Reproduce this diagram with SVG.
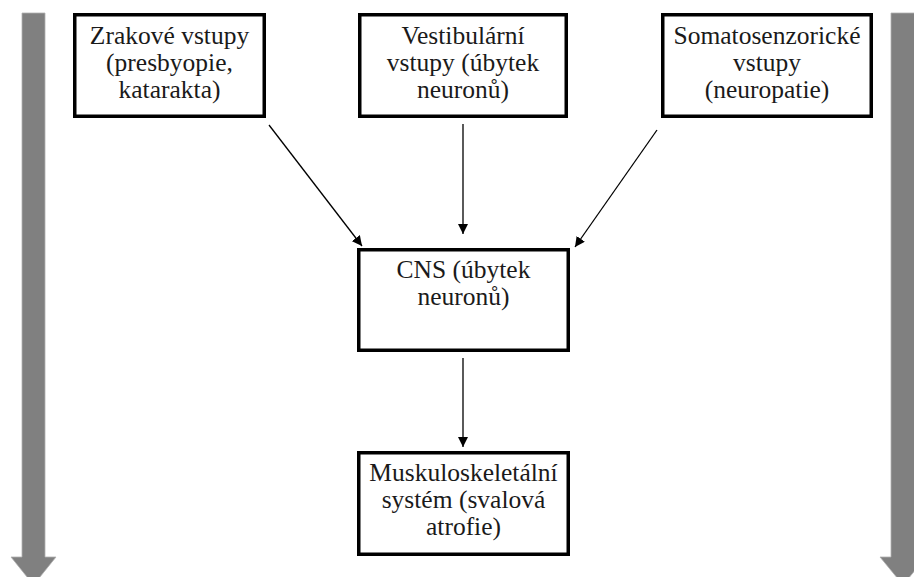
<svg xmlns="http://www.w3.org/2000/svg" width="914" height="577" viewBox="0 0 914 577">
<defs>
<style>
.box{fill:#fff;stroke:#000;stroke-width:3.5}
.t{font-family:'Liberation Serif','Times New Roman',serif;font-size:25.5px;fill:#1a1a1a;text-anchor:middle}
.c{stroke:#000;stroke-width:1.3;fill:none;marker-end:url(#ah)}
.big{fill:#808080;stroke:#b0b0b0;stroke-width:0.8}
</style>
<marker id="ah" viewBox="0 0 10 10" refX="10" refY="5" markerWidth="10" markerHeight="10" markerUnits="userSpaceOnUse" orient="auto">
<path d="M0,0 L10,5 L0,10 z" fill="#000"/>
</marker>
</defs>
<rect width="914" height="577" fill="#fff"/>
<g id="left-arrow"><path class="big" d="M22,13 H45 V557 H56 L33.5,585 L11,557 H22 Z"/></g>
<g id="right-arrow"><path class="big" d="M891,13 H915 V557 H926 L903,585 L880,557 H891 Z"/></g>
<g id="connectors">
<line class="c" x1="269" y1="125" x2="362" y2="246"/>
<line class="c" x1="463" y1="124" x2="463" y2="234"/>
<line class="c" x1="657" y1="130" x2="575" y2="247"/>
<line class="c" x1="463" y1="358" x2="463" y2="447"/>
</g>
<g id="zrakove">
<rect class="box" x="74.75" y="14.75" width="189.5" height="101.5"/>
<text class="t" x="169.5" y="44">Zrakové vstupy</text>
<text class="t" x="169.5" y="71">(presbyopie,</text>
<text class="t" x="169.5" y="98">katarakta)</text>
</g>
<g id="vestibularni">
<rect class="box" x="359.75" y="14.75" width="206.5" height="101.5"/>
<text class="t" x="463" y="44">Vestibulární</text>
<text class="t" x="463" y="71">vstupy (úbytek</text>
<text class="t" x="463" y="98">neuronů)</text>
</g>
<g id="somatosenzoricke">
<rect class="box" x="662.75" y="14.75" width="208.5" height="101.5"/>
<text class="t" x="767" y="44">Somatosenzorické</text>
<text class="t" x="767" y="71">vstupy</text>
<text class="t" x="767" y="98">(neuropatie)</text>
</g>
<g id="cns">
<rect class="box" x="358.75" y="249.75" width="209.5" height="100.5"/>
<text class="t" x="463.5" y="278">CNS (úbytek</text>
<text class="t" x="463.5" y="305">neuronů)</text>
</g>
<g id="muskuloskeletalni">
<rect class="box" x="358.75" y="452.75" width="209.5" height="101.5"/>
<text class="t" x="463.5" y="481">Muskuloskeletální</text>
<text class="t" x="463.5" y="508">systém (svalová</text>
<text class="t" x="463.5" y="535">atrofie)</text>
</g>
</svg>
